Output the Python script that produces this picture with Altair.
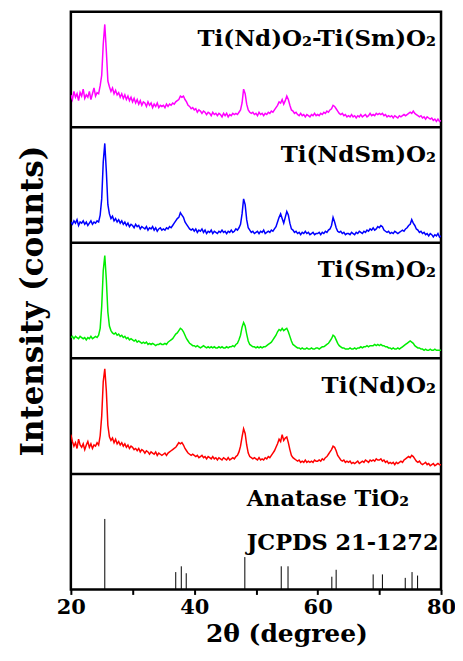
import altair as alt
import pandas as pd

# 2-theta grid (degrees), 0.25 deg step from 20 to 80
two_theta = [round(20 + 0.25 * i, 2) for i in range(241)]

# Intensities, each in its own panel units (0 = panel bottom, 100 = panel top)
mix_vals = [
    28, 24, 31, 26, 29, 23, 30, 27, 33, 25, 28, 26, 31, 24, 29, 34, 27, 30, 29, 36,
    45, 72, 89, 66, 40, 35, 31, 34, 29, 32, 28, 30, 26, 29, 25, 28, 24, 27, 23, 26,
    22, 25, 21, 24, 20, 23, 19, 22, 21, 18, 22, 19, 21, 17, 20, 18, 21, 17, 19, 18,
    19, 17, 20, 18, 20, 19, 21, 20, 22, 23, 24, 27, 26, 27, 24, 22, 19, 18, 16, 17,
    15, 16, 13, 15, 14, 12, 14, 13, 11, 13, 12, 10, 13, 11, 12, 10, 12, 11, 9, 12,
    10, 12, 9, 11, 10, 12, 11, 12, 11, 13, 15, 21, 33, 29, 20, 15, 13, 12, 13, 11,
    12, 10, 13, 11, 12, 10, 12, 11, 13, 12, 14, 13, 15, 17, 19, 22, 21, 24, 20, 23,
    27, 24, 19, 15, 14, 12, 13, 11, 10, 12, 10, 11, 9, 11, 10, 9, 11, 10, 12, 10,
    11, 10, 12, 11, 13, 12, 14, 13, 15, 16, 19, 18, 16, 14, 12, 11, 12, 10, 11, 9,
    10, 9, 11, 9, 10, 8, 10, 9, 11, 9, 10, 11, 9, 10, 12, 10, 11, 10, 12, 11,
    12, 11, 12, 10, 11, 9, 10, 9, 10, 8, 10, 9, 8, 10, 9, 10, 11, 10, 11, 12,
    13, 12, 14, 12, 11, 10, 9, 10, 8, 9, 7, 9, 8, 7, 8, 6, 7, 5, 7, 5,
    6,
]
ndsm_vals = [
    18, 16, 19, 17, 20, 15, 18, 17, 19, 16, 18, 15, 17, 19, 16, 18, 17, 19, 18, 24,
    38, 70, 86, 62, 33, 25, 21, 23, 19, 21, 18, 20, 17, 19, 16, 18, 15, 17, 14, 16,
    15, 13, 16, 14, 15, 12, 14, 13, 12, 14, 11, 13, 12, 14, 11, 13, 10, 12, 13, 11,
    12, 11, 13, 12, 14, 13, 15, 17, 19, 21, 22, 26, 24, 22, 18, 16, 14, 12, 11, 12,
    10, 12, 9, 11, 10, 12, 9, 11, 8, 10, 9, 11, 8, 10, 9, 8, 10, 9, 11, 9,
    10, 8, 10, 9, 11, 9, 10, 12, 11, 13, 16, 25, 38, 33, 20, 13, 11, 9, 10, 8,
    9, 10, 8, 10, 9, 11, 8, 9, 10, 9, 11, 10, 12, 14, 18, 22, 25, 21, 17, 22,
    27, 24, 17, 12, 11, 9, 10, 8, 9, 7, 9, 8, 10, 8, 9, 7, 8, 9, 7, 8,
    8, 9, 7, 9, 8, 10, 9, 11, 12, 15, 22, 18, 13, 10, 9, 10, 8, 9, 7, 8,
    8, 7, 9, 8, 7, 9, 8, 10, 9, 8, 10, 9, 11, 10, 12, 11, 13, 11, 12, 14,
    13, 15, 14, 11, 10, 9, 10, 8, 9, 8, 10, 9, 8, 9, 10, 11, 10, 12, 13, 15,
    16, 20, 17, 15, 12, 11, 9, 10, 8, 9, 7, 8, 6, 8, 7, 5, 7, 6, 8, 5,
    6,
]
sm_vals = [
    18, 19, 17, 19, 18, 17, 19, 18, 17, 18, 16, 18, 17, 19, 17, 18, 19, 18, 20, 26,
    45, 76, 89, 68, 40, 28, 24, 22, 21, 22, 20, 21, 19, 20, 18, 19, 17, 18, 16, 17,
    16, 15, 16, 14, 15, 14, 13, 14, 13, 14, 12, 13, 12, 13, 12, 11, 12, 12, 13, 12,
    12, 13, 12, 14, 15, 16, 17, 19, 21, 22, 24, 26, 25, 23, 20, 17, 15, 13, 12, 11,
    11, 10, 11, 10, 9, 10, 11, 10, 9, 10, 9, 10, 9, 10, 9, 9, 10, 9, 10, 9,
    9, 10, 9, 10, 10, 11, 10, 12, 13, 16, 20, 27, 31, 28, 21, 15, 12, 11, 10, 10,
    9, 10, 9, 10, 9, 10, 10, 11, 12, 13, 14, 16, 18, 20, 23, 25, 24, 26, 24, 25,
    26, 23, 19, 15, 12, 11, 10, 9, 9, 8, 9, 8, 8, 9, 8, 8, 9, 8, 8, 9,
    9, 8, 9, 10, 10, 11, 12, 13, 15, 17, 20, 19, 16, 13, 11, 10, 9, 9, 8, 8,
    8, 9, 8, 8, 9, 8, 9, 9, 10, 9, 10, 10, 11, 10, 11, 11, 11, 12, 11, 12,
    11, 12, 11, 11, 10, 10, 9, 9, 8, 9, 8, 8, 9, 8, 9, 10, 11, 12, 13, 14,
    15, 14, 13, 11, 10, 9, 9, 8, 8, 7, 8, 7, 7, 8, 7, 7, 8, 7, 7, 7,
    7,
]
nd_vals = [
    34, 28, 24, 27, 22, 30, 25, 23, 26, 21, 25, 28, 23, 26, 22, 25, 24, 27, 25, 33,
    50, 80, 91, 72, 42, 32, 29, 31, 27, 30, 26, 28, 25, 27, 24, 26, 23, 25, 22, 24,
    23, 21, 22, 20, 22, 19, 21, 20, 18, 20, 19, 17, 19, 18, 17, 19, 16, 18, 17, 16,
    17, 18, 16, 18, 19, 20, 21, 22, 23, 25, 27, 26, 27, 25, 22, 20, 18, 17, 16, 17,
    16, 15, 16, 14, 15, 16, 14, 15, 13, 15, 14, 13, 15, 13, 14, 12, 14, 13, 12, 14,
    13, 12, 14, 12, 13, 14, 13, 15, 16, 19, 24, 32, 39, 35, 25, 18, 15, 14, 13, 14,
    13, 12, 14, 12, 13, 12, 14, 13, 15, 14, 16, 18, 20, 23, 26, 30, 28, 34, 29, 31,
    32, 27, 21, 16, 14, 13, 12, 11, 12, 10, 11, 10, 12, 10, 11, 10, 11, 10, 12, 11,
    11, 12, 11, 13, 12, 14, 15, 17, 19, 21, 24, 23, 20, 16, 14, 12, 11, 12, 10, 11,
    10, 11, 9, 10, 9, 10, 11, 9, 10, 11, 10, 12, 11, 10, 12, 11, 12, 11, 13, 12,
    12, 13, 11, 12, 10, 11, 9, 10, 9, 10, 8, 10, 9, 10, 11, 10, 12, 13, 14, 15,
    14, 16, 15, 13, 11, 10, 11, 9, 8, 9, 10, 8, 9, 7, 8, 9, 7, 8, 9, 8,
    8,
]

samples = ["Ti(Nd)O2-Ti(Sm)O2", "Ti(NdSm)O2", "Ti(Sm)O2", "Ti(Nd)O2"]
labels = ["Ti(Nd)O₂-Ti(Sm)O₂", "Ti(NdSm)O₂", "Ti(Sm)O₂", "Ti(Nd)O₂"]
series = [mix_vals, ndsm_vals, sm_vals, nd_vals]
colors = ["#ff00ff", "#0000ff", "#00ee00", "#ff0000"]
offsets = [400, 300, 200, 100]

# JCPDS 21-1272 anatase reference lines
anatase_pos = [25.5, 37.0, 37.9, 38.7, 48.2, 54.1, 55.2, 62.3, 63.0, 69.0, 70.5, 74.2, 75.3, 76.2]
anatase_int = [61, 15, 20, 14, 28, 20, 20, 11, 17, 13, 13, 10, 15, 12]

ref_labels = ["Anatase TiO₂", "JCPDS 21-1272"]

rows = []
for name, vals, off in zip(samples, series, offsets):
    for t, v in zip(two_theta, vals):
        rows.append({"two_theta": t, "y": v + off, "sample": name})
df = pd.DataFrame(rows)

stick_df = pd.DataFrame({"two_theta": anatase_pos, "y": anatase_int, "y0": [0] * len(anatase_pos)})
div_df = pd.DataFrame({"y": offsets})

label_df = pd.DataFrame({
    "two_theta": [79.2] * 4,
    "y": [o + 70 for o in offsets],
    "text": labels,
})
ref_df = pd.DataFrame({
    "two_theta": [48.5, 48.5],
    "y": [72, 34],
    "text": ref_labels,
})

FONT = "DejaVu Serif"

x_scale = alt.Scale(domain=[20, 80], nice=False, zero=False)
y_scale = alt.Scale(domain=[0, 500], nice=False)

x_axis = alt.Axis(
    values=[20, 30, 40, 50, 60, 70, 80],
    labelExpr="datum.value % 20 === 0 ? datum.label : ''",
    title="2θ (degree)",
    domain=False, grid=False,
    ticks=True, tickSize=5, tickWidth=2, tickColor="black",
    labelFont=FONT, labelFontWeight="bold", labelFontSize=21, labelColor="black",
    labelPadding=2, labelFlush=False,
    titleFont=FONT, titleFontWeight="bold", titleFontSize=25, titleColor="black",
    titlePadding=4, titleX=216,
)
y_axis = alt.Axis(
    title="Intensity (counts)",
    labels=False, ticks=False, domain=False, grid=False,
    titleFont=FONT, titleFontWeight="bold", titleFontSize=31, titleColor="black",
    titlePadding=21,
)

X = alt.X("two_theta:Q", scale=x_scale, axis=x_axis)
Y = alt.Y("y:Q", scale=y_scale, axis=y_axis)

lines = alt.Chart(df).mark_line(strokeWidth=1.5, clip=True).encode(
    x=X, y=Y,
    color=alt.Color("sample:N", scale=alt.Scale(domain=samples, range=colors), legend=None),
    detail="sample:N",
)
sticks = alt.Chart(stick_df).mark_rule(color="black", strokeWidth=1).encode(x=X, y=Y, y2="y0:Q")
dividers = alt.Chart(div_df).mark_rule(color="black", strokeWidth=2.5).encode(y=Y)
texts = alt.Chart(label_df).mark_text(
    align="right", baseline="alphabetic", font=FONT, fontWeight="bold", fontSize=23, color="black"
).encode(x=X, y=Y, text="text:N")
ref_texts = alt.Chart(ref_df).mark_text(
    align="left", baseline="alphabetic", font=FONT, fontWeight="bold", fontSize=22.5, color="black"
).encode(x=X, y=Y, text="text:N")

chart = alt.layer(lines, sticks, dividers, texts, ref_texts).properties(
    width=371, height=579,
    autosize=alt.AutoSizeParams(type="none"),
    padding={"left": 63, "top": 3, "right": 14, "bottom": 62},
    background="white",
).configure_view(stroke="black", strokeWidth=2.5)

chart.save("out.html", embed_options={"renderer": "svg", "actions": False})
